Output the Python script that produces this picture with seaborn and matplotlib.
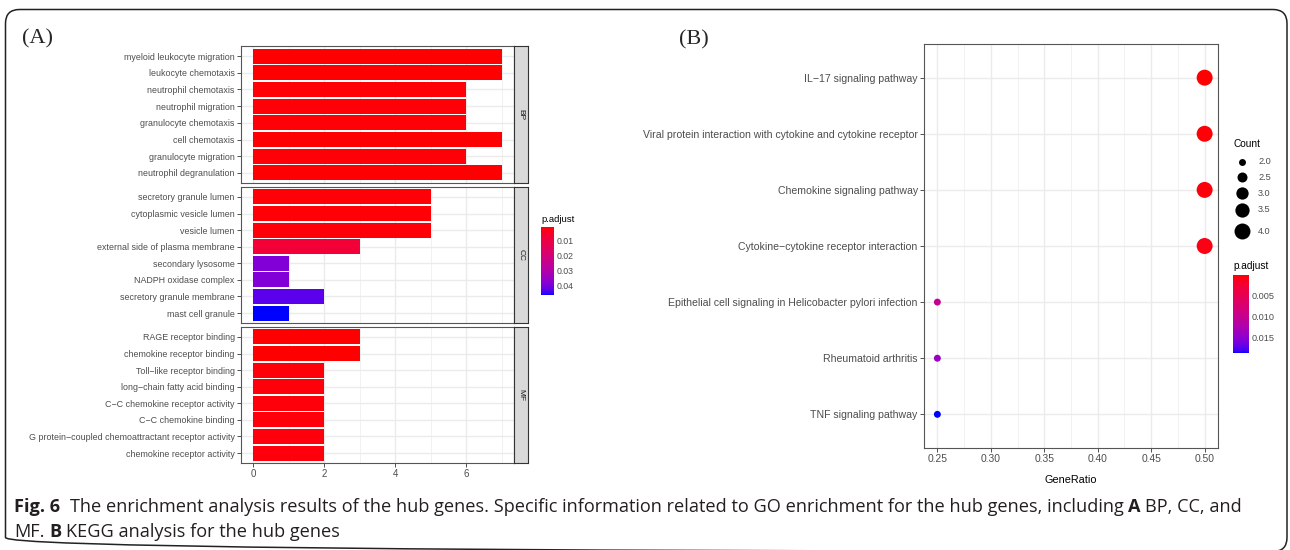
import numpy as np
import pandas as pd
import matplotlib
matplotlib.use("Agg")
import matplotlib.pyplot as plt
import seaborn as sns
from matplotlib.colors import ListedColormap, Normalize
from matplotlib.colorbar import ColorbarBase
from matplotlib.patches import FancyBboxPatch

# ---------------- data ----------------
bp_terms = ["myeloid leukocyte migration", "leukocyte chemotaxis", "neutrophil chemotaxis",
            "neutrophil migration", "granulocyte chemotaxis", "cell chemotaxis",
            "granulocyte migration", "neutrophil degranulation"]
bp_counts = [7, 7, 6, 6, 6, 7, 6, 7]
bp_padj = [0.0008, 0.0008, 0.0012, 0.0012, 0.0012, 0.0009, 0.0013, 0.0010]

cc_terms = ["secretory granule lumen", "cytoplasmic vesicle lumen", "vesicle lumen",
            "external side of plasma membrane", "secondary lysosome", "NADPH oxidase complex",
            "secretory granule membrane", "mast cell granule"]
cc_counts = [5, 5, 5, 3, 1, 1, 2, 1]
cc_padj = [0.0012, 0.0012, 0.0013, 0.0075, 0.0385, 0.0385, 0.0425, 0.0460]

mf_terms = ["RAGE receptor binding", "chemokine receptor binding", "Toll\u2212like receptor binding",
            "long\u2212chain fatty acid binding", "C\u2212C chemokine receptor activity",
            "C\u2212C chemokine binding", "G protein\u2212coupled chemoattractant receptor activity",
            "chemokine receptor activity"]
mf_counts = [3, 3, 2, 2, 2, 2, 2, 2]
mf_padj = [0.0007, 0.0008, 0.0015, 0.0015, 0.0015, 0.0015, 0.0016, 0.0016]

facet_names = ["BP", "CC", "MF"]
cbarA_ticks = [0.01, 0.02, 0.03, 0.04]

kegg_terms = ["IL\u221217 signaling pathway",
              "Viral protein interaction with cytokine and cytokine receptor",
              "Chemokine signaling pathway",
              "Cytokine\u2212cytokine receptor interaction",
              "Epithelial cell signaling in Helicobacter pylori infection",
              "Rheumatoid arthritis",
              "TNF signaling pathway"]
kegg_ratio = [0.50, 0.50, 0.50, 0.50, 0.25, 0.25, 0.25]
kegg_count = [4, 4, 4, 4, 2, 2, 2]
kegg_padj = [0.0001, 0.0003, 0.0005, 0.0008, 0.0102, 0.0140, 0.0186]
kegg_xticks = [0.25, 0.30, 0.35, 0.40, 0.45, 0.50]
count_legend = [2.0, 2.5, 3.0, 3.5, 4.0]
cbarB_ticks = [0.005, 0.010, 0.015]

caption_line1 = [("Fig. 6", "bold"),
                 ("The enrichment analysis results of the hub genes. Specific information related to GO enrichment for the hub genes, including", "normal"),
                 ("A", "bold"), ("BP, CC, and", "normal")]
caption_line2 = [("MF.", "normal"), ("B", "bold"), ("KEGG analysis for the hub genes", "normal")]

# ---------------- style ----------------
sns.set_style("white")
plt.rcParams["font.family"] = ["Liberation Sans", "DejaVu Sans"]

W, H = 1290, 550
fig = plt.figure(figsize=(W / 100, H / 100), dpi=100)


def px_axes(x0, y0, x1, y1, **kw):
    return fig.add_axes([x0 / W, 1 - y1 / H, (x1 - x0) / W, (y1 - y0) / H], **kw)


# ggplot-like Lab interpolation red -> blue
def srgb_to_lab(rgb):
    rgb = np.asarray(rgb, float)
    lin = np.where(rgb <= 0.04045, rgb / 12.92, ((rgb + 0.055) / 1.055) ** 2.4)
    M = np.array([[0.4124, 0.3576, 0.1805], [0.2126, 0.7152, 0.0722], [0.0193, 0.1192, 0.9505]])
    xyz = M @ lin / np.array([0.95047, 1.0, 1.08883])
    f = np.where(xyz > 0.008856, np.cbrt(xyz), 7.787 * xyz + 16 / 116)
    return np.array([116 * f[1] - 16, 500 * (f[0] - f[1]), 200 * (f[1] - f[2])])


def lab_to_srgb(lab):
    L, a, b = lab
    fy = (L + 16) / 116
    fx = fy + a / 500
    fz = fy - b / 200
    f = np.array([fx, fy, fz])
    xyz = np.where(f ** 3 > 0.008856, f ** 3, (f - 16 / 116) / 7.787) * np.array([0.95047, 1.0, 1.08883])
    Mi = np.array([[3.2406, -1.5372, -0.4986], [-0.9689, 1.8758, 0.0415], [0.0557, -0.2040, 1.0570]])
    lin = np.clip(Mi @ xyz, 0, 1)
    rgb = np.where(lin <= 0.0031308, 12.92 * lin, 1.055 * lin ** (1 / 2.4) - 0.055)
    return np.clip(rgb, 0, 1)


lab_r = srgb_to_lab([1, 0, 0])
lab_b = srgb_to_lab([0, 0, 1])
cmap = ListedColormap([lab_to_srgb(lab_r * (1 - t) + lab_b * t) for t in np.linspace(0, 1, 256)])

TXT = "#4D4D4D"
LINE = "#333333"
GRID = "#EBEBEB"

# ---------------- panel A ----------------
allA = bp_padj + cc_padj + mf_padj
normA = Normalize(vmin=min(allA), vmax=max(allA))
rows = [(46, 183), (187, 323), (327, 463)]
groups = [(bp_terms, bp_counts, bp_padj), (cc_terms, cc_counts, cc_padj), (mf_terms, mf_counts, mf_padj)]

for i, ((terms, counts, padj), (y0, y1), name) in enumerate(zip(groups, rows, facet_names)):
    ax = px_axes(241, y0, 514, y1)
    df = pd.DataFrame({"term": terms, "count": counts, "padj": padj})
    pal = {t: cmap(normA(p)) for t, p in zip(terms, padj)}
    sns.barplot(data=df, x="count", y="term", hue="term", palette=pal, legend=False,
                width=0.9, saturation=1, orient="h", linewidth=0, ax=ax)
    ax.set_xlim(-0.35, 7.35)
    ax.set_ylim(len(terms) - 0.4, -0.6)
    ax.set_xticks([0, 2, 4, 6])
    ax.set_xticks([1, 3, 5, 7], minor=True)
    ax.set_axisbelow(True)
    ax.grid(which="major", color=GRID, lw=1.0)
    ax.grid(which="minor", axis="x", color=GRID, lw=0.5)
    ax.set_xlabel("")
    ax.set_ylabel("")
    for s in ax.spines.values():
        s.set_color("#555555")
        s.set_linewidth(0.8)
    ax.tick_params(axis="y", labelsize=6.4, labelcolor=TXT, color=LINE, length=3, width=0.6, left=True, pad=1.5)
    if i < 2:
        ax.tick_params(axis="x", which="both", labelbottom=False, length=0)
    else:
        ax.tick_params(axis="x", which="major", labelsize=7, labelcolor=TXT, color=LINE,
                       length=3, width=0.6, bottom=True, pad=1.5)
        ax.tick_params(axis="x", which="minor", length=0)
    # strip
    sax = px_axes(514, y0, 528, y1)
    sax.set_facecolor("#D9D9D9")
    sax.set_xticks([])
    sax.set_yticks([])
    for s in sax.spines.values():
        s.set_color(LINE)
        s.set_linewidth(0.8)
    sax.text(0.5, 0.5, name, rotation=-90, ha="center", va="center", fontsize=6, color="#1A1A1A",
             transform=sax.transAxes)

caxA = px_axes(541, 227, 554, 295)
cbA = ColorbarBase(caxA, cmap=cmap, norm=normA, orientation="vertical")
caxA.invert_yaxis()
cbA.set_ticks(cbarA_ticks)
cbA.set_ticklabels([f"{t:.2f}" for t in cbarA_ticks])
cbA.outline.set_visible(False)
caxA.tick_params(direction="in", color="white", length=2.5, width=0.6, left=True, right=True,
                 labelsize=6.3, labelcolor=TXT, pad=2)

# ---------------- panel B ----------------
axB = px_axes(924, 44, 1218, 448)
dfk = pd.DataFrame({"pathway": kegg_terms, "ratio": kegg_ratio, "count": kegg_count, "padj": kegg_padj})
normB = Normalize(vmin=min(kegg_padj), vmax=max(kegg_padj))
palB = {t: cmap(normB(p)) for t, p in zip(kegg_terms, kegg_padj)}
SMIN, SMAX = 25, 132
sns.scatterplot(data=dfk, x="ratio", y="pathway", hue="pathway", palette=palB, size="count",
                sizes=(SMIN, SMAX), size_norm=(2, 4), legend=False, linewidth=0, ax=axB, zorder=3)
axB.set_xlim(0.2375, 0.5125)
axB.set_ylim(len(kegg_terms) - 0.4, -0.6)
axB.set_xticks(kegg_xticks)
axB.set_xticklabels([f"{t:.2f}" for t in kegg_xticks])
axB.set_xticks([0.275, 0.325, 0.375, 0.425, 0.475], minor=True)
axB.set_axisbelow(True)
axB.grid(which="major", color=GRID, lw=1.0)
axB.grid(which="minor", axis="x", color=GRID, lw=0.5)
axB.set_ylabel("")
axB.set_xlabel("GeneRatio", fontsize=7.8, color="black", labelpad=8)
for s in axB.spines.values():
    s.set_color("#555555")
    s.set_linewidth(0.8)
axB.tick_params(axis="y", labelsize=7.6, labelcolor=TXT, color=LINE, length=3, width=0.6, left=True, pad=1.5)
axB.tick_params(axis="x", which="major", labelsize=7.4, labelcolor=TXT, color=LINE, length=3, width=0.6,
                bottom=True, pad=1.5)
axB.tick_params(axis="x", which="minor", length=0)

caxB = px_axes(1233, 275, 1249, 353)
cbB = ColorbarBase(caxB, cmap=cmap, norm=normB, orientation="vertical")
caxB.invert_yaxis()
cbB.set_ticks(cbarB_ticks)
cbB.set_ticklabels([f"{t:.3f}" for t in cbarB_ticks])
cbB.outline.set_visible(False)
caxB.tick_params(direction="in", color="white", length=3, width=0.6, left=True, right=True,
                 labelsize=6.6, labelcolor=TXT, pad=2)

# ---------------- overlay (pixel coords) ----------------
ov = fig.add_axes([0, 0, 1, 1], facecolor="none")
ov.set_xlim(0, W)
ov.set_ylim(H, 0)
ov.axis("off")

ov.add_patch(FancyBboxPatch((5.5, 9.5), 1281.5, 542, boxstyle="round,pad=0,rounding_size=14",
                            fill=False, ec="#222222", lw=1.1, clip_on=False))
ov.text(22, 39, "(A)", fontsize=16, family=["Liberation Serif", "DejaVu Serif"], va="center", ha="left")
ov.text(679, 40, "(B)", fontsize=16, family=["Liberation Serif", "DejaVu Serif"], va="center", ha="left")

ov.text(541, 219, "p.adjust", fontsize=6.8, color="black", va="center", ha="left")
ov.text(1233, 266, "p.adjust", fontsize=7.3, color="black", va="center", ha="left")
ov.text(1233, 144, "Count", fontsize=7.3, color="black", va="center", ha="left")
leg_y = [162, 177, 193, 210, 231]
for v, yy in zip(count_legend, leg_y):
    s = SMIN + (v - 2) / 2 * (SMAX - SMIN)
    ov.scatter([1242], [yy], s=s, color="black", linewidth=0)
    ov.text(1258, yy, f"{v:.1f}", fontsize=6.6, color=TXT, va="center", ha="left")

# caption with mixed weights
CAP_FAMILY = ["Liberation Sans Narrow", "Open Sans", "DejaVu Sans"]
renderer = fig.canvas.get_renderer()


def text_w(s, size, weight):
    t = ov.text(0, 0, s, fontsize=size, fontweight=weight, family=CAP_FAMILY)
    w = t.get_window_extent(renderer).width
    t.remove()
    return w


def line_width(pieces, size):
    sp = text_w("x x", size, "normal") - text_w("xx", size, "normal")
    total = sum(text_w(s, size, w) for s, w in pieces)
    gaps = [2 * sp] + [sp] * (len(pieces) - 2)
    return total + sum(gaps[:len(pieces) - 1]), sp


base = 12
w0, _ = line_width(caption_line1, base)
cap_size = base * (1226 / w0)


def draw_line(pieces, x, y, first_gap_double):
    sp = text_w("x x", cap_size, "normal") - text_w("xx", cap_size, "normal")
    for k, (s, wgt) in enumerate(pieces):
        t = ov.text(x, y, s, fontsize=cap_size, fontweight=wgt, family=CAP_FAMILY,
                    color="#231F20", va="baseline", ha="left")
        x += t.get_window_extent(renderer).width
        x += (2 * sp if (k == 0 and first_gap_double) else sp)


draw_line(caption_line1, 14, 512, True)
draw_line(caption_line2, 14, 537, False)

fig.savefig("out.png", dpi=100)
